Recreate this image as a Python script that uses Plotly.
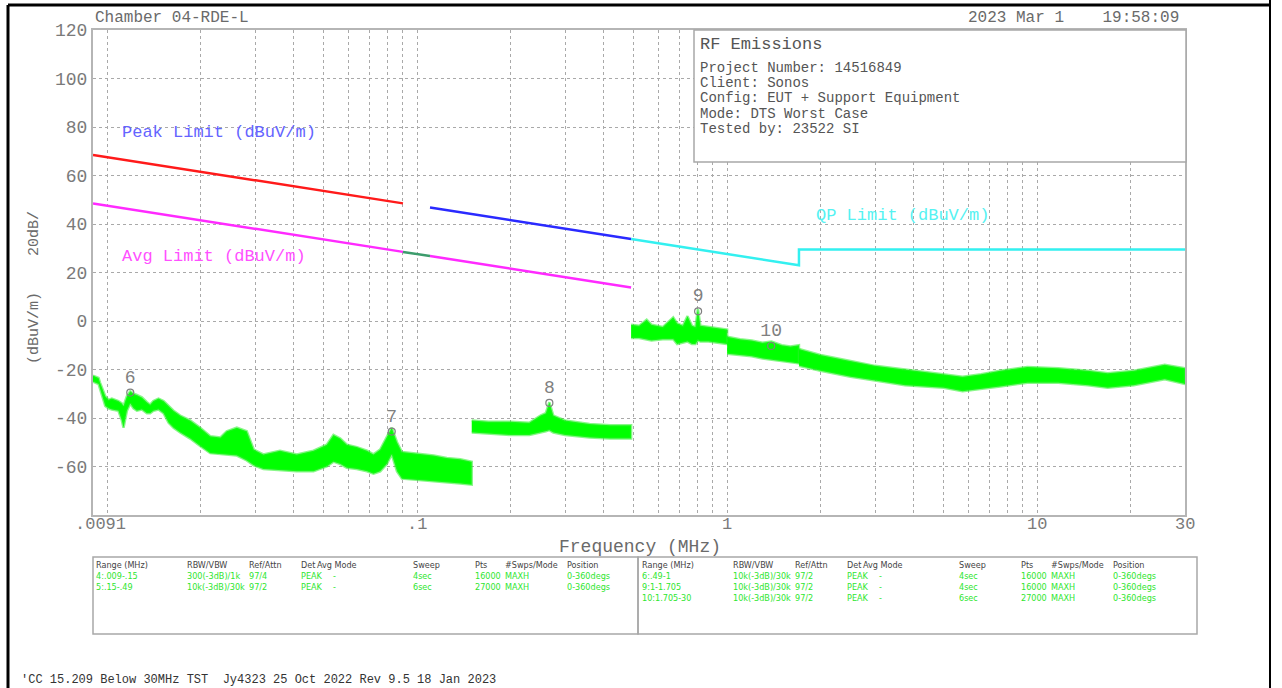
import math
import plotly.graph_objects as go

# ---------------- data ----------------
seg1_freq = [0.0090, 0.00938, 0.00949, 0.00986, 0.0101, 0.01035, 0.01087, 0.01115, 0.01129, 0.01143,
             0.01158, 0.01187, 0.01216, 0.01247, 0.01294, 0.01343, 0.01376, 0.0141, 0.01464, 0.0152,
             0.01578, 0.01637, 0.0172, 0.01852, 0.01995, 0.0215, 0.0232, 0.0243, 0.0262, 0.0282,
             0.0297, 0.0319, 0.0361, 0.0409, 0.0463, 0.0511, 0.0537, 0.0565, 0.0593, 0.0639,
             0.0689, 0.0723, 0.076, 0.0798, 0.0828, 0.0861, 0.0893, 0.0973, 0.113, 0.1247, 0.1377, 0.15]
seg1_hi = [-22.5, -23.5, -25.5, -31, -32.5, -32, -33, -34, -35, -33,
           -31, -29, -30, -30.5, -31.5, -33.5, -34.5, -33, -32, -33,
           -35, -37, -39, -41, -44, -47.5, -48, -45.5, -44, -45.5,
           -53, -55, -53.5, -55, -53.5, -51, -47, -48.5, -51, -52,
           -53.5, -55, -53, -48, -44, -50, -54, -54.5, -55.5, -56.5, -57, -58]
seg1_lo = [-25, -26, -28, -35, -36, -36.5, -37, -41, -44, -40,
           -37, -34, -36, -37, -36.5, -38, -38, -37, -36.5, -38,
           -42, -44, -46, -48.5, -51.5, -54.5, -55, -55, -55.5, -57.5,
           -59.5, -61, -61.5, -62, -62, -60, -58, -59, -60.5, -61,
           -62, -63, -62, -59, -55, -62, -65, -65.5, -66, -66.5, -67, -67.5]

seg2_freq = [0.15, 0.17, 0.20, 0.23, 0.25, 0.26, 0.267, 0.275, 0.30, 0.36, 0.42, 0.49]
seg2_hi = [-41, -41.5, -41.5, -42, -39, -38, -33.5, -39, -41, -42.5, -43, -43]
seg2_lo = [-46, -46.5, -47, -47, -46, -45.5, -45, -46, -47, -48, -48.5, -48.5]

seg3_freq = [0.49, 0.52, 0.55, 0.57, 0.62, 0.67, 0.69, 0.72, 0.745, 0.77, 0.79, 0.805, 0.82, 0.87, 0.93, 1.0]
seg3_hi = [-1.5, -2, 0.5, -1.5, -2.5, 1.5, -1, -2, 2, -2, -2.5, 5, -2, -2.5, -3, -3.5]
seg3_lo = [-7, -7, -7.5, -8, -7.5, -7.5, -9.5, -9, -8.5, -9.5, -9.5, -8, -8.5, -8.5, -9, -9.5]

seg4_freq = [1.0, 1.1, 1.2, 1.3, 1.39, 1.5, 1.6, 1.705]
seg4_hi = [-6.5, -7.5, -8, -9, -8.5, -10, -10.5, -10]
seg4_lo = [-13.5, -14, -14.5, -15.5, -16, -16.5, -17, -17.5]

seg5_freq = [1.705, 2.0, 2.5, 3.0, 3.75, 5.0, 5.75, 6.6, 7.6, 9.3, 11.7, 14.6, 16.9, 20.5, 25.8, 30]
seg5_hi = [-11.5, -14, -16.5, -18.5, -20, -22, -23, -22, -20.5, -19, -19.5, -20.5, -21.5, -20.5, -18, -19.5]
seg5_lo = [-18.5, -20.5, -23, -24.5, -26.5, -27.5, -29, -28, -27, -25.5, -25.5, -26.5, -27.5, -26.5, -24, -26]

# limit lines (dBuV/m)
peak_lo_freq = [0.009, 0.09]
peak_lo_val = [68.5, 48.5]
peak_hi_freq = [0.11, 0.49]
peak_hi_val = [46.8, 33.8]
avg_lo_freq = [0.009, 0.09]
avg_lo_val = [48.5, 28.5]
avg_hi_freq = [0.11, 0.49]
avg_hi_val = [26.8, 13.8]
qp_mid_freq = [0.09, 0.11]
qp_mid_val = [28.5, 26.8]
qp_freq = [0.49, 1.705, 1.705, 30]
qp_val = [33.8, 23.0, 29.5, 29.5]

# markers
mk_freq = [0.01187, 0.0828, 0.267, 0.806, 1.387]
mk_val = [-29.5, -45.6, -33.8, 4.0, -10.3]
mk_label = ["6", "7", "8", "9", "10"]

# axis ticks
grid_freqs = [0.01, 0.02, 0.03, 0.04, 0.05, 0.06, 0.07, 0.08, 0.09,
              0.1, 0.2, 0.3, 0.4, 0.5, 0.6, 0.7, 0.8, 0.9,
              1, 2, 3, 4, 5, 6, 7, 8, 9, 10, 20, 30]
freq_label_vals = [0.1, 1, 10, 30]
freq_label_text = [".1", "1", "10", "30"]
y_ticks = [-80, -60, -40, -20, 0, 20, 40, 60, 80, 100, 120]

# table
tbl_header = ["Range (MHz)", "RBW/VBW", "Ref/Attn", "Det", "Avg Mode", "Sweep", "Pts", "#Swps/Mode", "Position"]
tbl_left_rows = [
    ["4:.009-.15", "300(-3dB)/1k", "97/4", "PEAK", "-", "4sec", "16000", "MAXH", "0-360degs"],
    ["5:.15-.49", "10k(-3dB)/30k", "97/2", "PEAK", "-", "6sec", "27000", "MAXH", "0-360degs"],
]
tbl_right_rows = [
    ["6:.49-1", "10k(-3dB)/30k", "97/2", "PEAK", "-", "4sec", "16000", "MAXH", "0-360degs"],
    ["9:1-1.705", "10k(-3dB)/30k", "97/2", "PEAK", "-", "4sec", "16000", "MAXH", "0-360degs"],
    ["10:1.705-30", "10k(-3dB)/30k", "97/2", "PEAK", "-", "6sec", "27000", "MAXH", "0-360degs"],
]

info_lines = ["Project Number: 14516849", "Client: Sonos", "Config: EUT + Support Equipment",
              "Mode: DTS Worst Case", "Tested by: 23522 SI"]

# ---------------- layout geometry ----------------
W, H = 1282, 688
L, R, T, B = 93, 1185, 30, 515
X_MIN, X_MAX = math.log10(0.009), math.log10(30)


def px(x):
    return (x - L) / (R - L)


def py(y):
    return (B - y) / (B - T)


def pf(freq):
    # paper x of a frequency on the log axis
    return (math.log10(freq) - X_MIN) / (X_MAX - X_MIN)


MONO = "Liberation Mono, DejaVu Sans Mono, monospace"
NARROW = "DejaVu Sans Condensed, Liberation Sans Narrow, Arial Narrow, sans-serif"
GRAY = "#7a7a7a"

fig = go.Figure()

# emission sweeps as filled bands
for f, hi, lo in [(seg1_freq, seg1_hi, seg1_lo), (seg2_freq, seg2_hi, seg2_lo),
                  (seg3_freq, seg3_hi, seg3_lo), (seg4_freq, seg4_hi, seg4_lo),
                  (seg5_freq, seg5_hi, seg5_lo)]:
    fig.add_trace(go.Scatter(x=f + f[::-1], y=hi + lo[::-1], mode="lines", fill="toself",
                             fillcolor="#00ff00", line=dict(color="rgba(40,240,40,0.55)", width=2.5),
                             hoverinfo="skip"))

# limit lines
fig.add_trace(go.Scatter(x=peak_lo_freq, y=peak_lo_val, mode="lines", line=dict(color="#ff1a1a", width=2.5)))
fig.add_trace(go.Scatter(x=peak_hi_freq, y=peak_hi_val, mode="lines", line=dict(color="#2a2aff", width=2.5)))
fig.add_trace(go.Scatter(x=avg_lo_freq, y=avg_lo_val, mode="lines", line=dict(color="#ff2aff", width=2.5)))
fig.add_trace(go.Scatter(x=avg_hi_freq, y=avg_hi_val, mode="lines", line=dict(color="#ff2aff", width=2.5)))
fig.add_trace(go.Scatter(x=qp_mid_freq, y=qp_mid_val, mode="lines", line=dict(color="#3c9c6c", width=2.5)))
fig.add_trace(go.Scatter(x=qp_freq, y=qp_val, mode="lines", line=dict(color="#33f0f0", width=2.5)))

# markers
fig.add_trace(go.Scatter(x=mk_freq, y=mk_val, mode="markers+text", text=mk_label,
                         textposition="top center",
                         textfont=dict(family=MONO, size=18, color="#808080"),
                         marker=dict(symbol="circle-open", size=7, color="#808080", line=dict(width=1.2))))

shapes = []
annotations = []

# x tick labels
for v, t in zip(freq_label_vals, freq_label_text):
    annotations.append(dict(text=t, x=pf(v), y=py(524), xref="paper", yref="paper",
                            xanchor="center", yanchor="middle", showarrow=False,
                            font=dict(family=MONO, size=17, color=GRAY)))
annotations.append(dict(text=".0091", x=px(100), y=py(524), xref="paper", yref="paper",
                        xanchor="center", yanchor="middle", showarrow=False,
                        font=dict(family=MONO, size=17, color=GRAY)))

# info box
shapes.append(dict(type="rect", xref="paper", yref="paper", x0=px(694), x1=px(1186), y0=py(162), y1=py(30),
                   fillcolor="white", line=dict(color="#a8a8a8", width=1.5), layer="above"))
annotations.append(dict(text="RF Emissions", x=px(698), y=py(44), xref="paper", yref="paper",
                        xanchor="left", yanchor="middle", showarrow=False,
                        font=dict(family=MONO, size=17, color="#555555")))
for i, line in enumerate(info_lines):
    annotations.append(dict(text=line, x=px(698), y=py(68 + i * 15.2), xref="paper", yref="paper",
                            xanchor="left", yanchor="middle", showarrow=False,
                            font=dict(family=MONO, size=14, color="#555555")))

# header texts
annotations.append(dict(text="Chamber 04-RDE-L", x=px(93), y=py(18), xref="paper", yref="paper",
                        xanchor="left", yanchor="middle", showarrow=False,
                        font=dict(family=MONO, size=16, color="#6a6a6a")))
annotations.append(dict(text="2023 Mar 1\u00a0\u00a0\u00a0\u00a019:58:09", x=px(1181), y=py(18),
                        xref="paper", yref="paper", xanchor="right", yanchor="middle", showarrow=False,
                        font=dict(family=MONO, size=16, color="#6a6a6a")))

# axis titles
annotations.append(dict(text="(dBuV/m)\u00a0\u00a0\u00a0\u00a020dB/", x=px(34), y=py(288), xref="paper",
                        yref="paper", textangle=-90, xanchor="center", yanchor="middle", showarrow=False,
                        font=dict(family=MONO, size=15, color="#6a6a6a")))
annotations.append(dict(text="Frequency (MHz)", x=px(640), y=py(547), xref="paper", yref="paper",
                        xanchor="center", yanchor="middle", showarrow=False,
                        font=dict(family=MONO, size=18, color="#6a6a6a")))

# limit labels
annotations.append(dict(text="Peak Limit (dBuV/m)", x=px(120), y=py(132), xref="paper", yref="paper",
                        xanchor="left", yanchor="middle", showarrow=False,
                        font=dict(family=MONO, size=17, color="#6464ff")))
annotations.append(dict(text="Avg Limit (dBuV/m)", x=px(120), y=py(256), xref="paper", yref="paper",
                        xanchor="left", yanchor="middle", showarrow=False,
                        font=dict(family=MONO, size=17, color="#ff50ff")))
annotations.append(dict(text="QP Limit (dBuV/m)", x=px(814), y=py(215), xref="paper", yref="paper",
                        xanchor="left", yanchor="middle", showarrow=False,
                        font=dict(family=MONO, size=17, color="#55f2f2")))

# table boxes
shapes.append(dict(type="rect", xref="paper", yref="paper", x0=px(93), x1=px(638), y0=py(634), y1=py(557),
                   line=dict(color="#a8a8a8", width=1.5)))
shapes.append(dict(type="rect", xref="paper", yref="paper", x0=px(638), x1=px(1197), y0=py(634), y1=py(557),
                   line=dict(color="#a8a8a8", width=1.5)))
col_off = [1, 92, 154, 206, 222, 318, 380, 410, 472]
for box_x, rows in [(93, tbl_left_rows), (639, tbl_right_rows)]:
    for j, h in enumerate(tbl_header):
        annotations.append(dict(text=h, x=px(box_x + col_off[j]), y=py(565), xref="paper", yref="paper",
                                xanchor="left", yanchor="middle", showarrow=False,
                                font=dict(family=NARROW, size=9, color="#444444")))
    for r, row in enumerate(rows):
        for j, cell in enumerate(row):
            xo = col_off[j] if j != 4 else col_off[3] + 32
            annotations.append(dict(text=cell, x=px(box_x + xo), y=py(576 + r * 11), xref="paper",
                                    yref="paper", xanchor="left", yanchor="middle", showarrow=False,
                                    font=dict(family=NARROW, size=9, color="#2ee62e")))

# footer
annotations.append(dict(text="'CC 15.209 Below 30MHz TST\u00a0\u00a0Jy4323 25 Oct 2022 Rev 9.5 18 Jan 2023",
                        x=px(19), y=py(680), xref="paper", yref="paper", xanchor="left", yanchor="middle",
                        showarrow=False, font=dict(family=MONO, size=12, color="#333333")))

# page frame (black)
shapes.append(dict(type="line", xref="paper", yref="paper", x0=px(8), x1=px(8), y0=py(5), y1=py(690),
                   line=dict(color="black", width=3)))
shapes.append(dict(type="line", xref="paper", yref="paper", x0=px(8), x1=px(1270), y0=py(5), y1=py(5),
                   line=dict(color="black", width=3)))
shapes.append(dict(type="line", xref="paper", yref="paper", x0=px(1270), x1=px(1270), y0=py(0), y1=py(690),
                   line=dict(color="black", width=2)))

fig.update_layout(
    width=W, height=H, autosize=False,
    margin=dict(l=L, r=W - R, t=T, b=H - B, pad=0),
    paper_bgcolor="white", plot_bgcolor="white",
    showlegend=False,
    shapes=shapes, annotations=annotations,
    xaxis=dict(type="log", range=[X_MIN, X_MAX], tickmode="array", tickvals=grid_freqs,
               showticklabels=False,
               showgrid=True, gridcolor="#a9a9a9", griddash="dot", gridwidth=1,
               showline=True, mirror=True, linecolor="#b5b5b5", linewidth=2, ticks="", zeroline=False),
    yaxis=dict(range=[-80, 120], tickmode="array", tickvals=y_ticks,
               ticktext=["" if v == -80 else str(v) for v in y_ticks],
               showgrid=True, gridcolor="#a9a9a9", griddash="dot", gridwidth=1,
               showline=True, mirror=True, linecolor="#b5b5b5", linewidth=2, ticks="",
               tickfont=dict(family=MONO, size=18, color=GRAY), zeroline=False),
)

fig.write_html("out.html", config={"displayModeBar": False},
               post_script="document.body.style.margin='0';document.body.style.overflow='hidden';")
